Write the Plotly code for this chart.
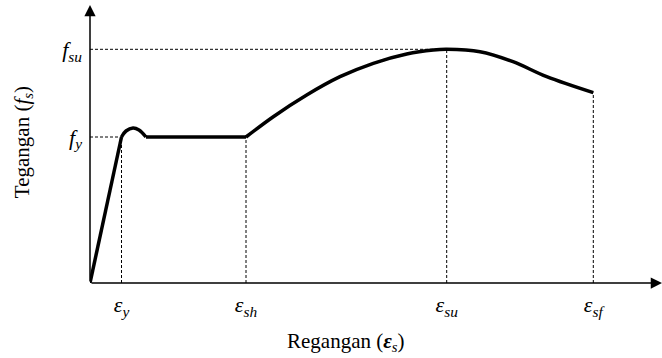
import plotly.graph_objects as go

# ---- data (strain / stress in chart units) ----
elastic_x = [0, 31.5]
elastic_y = [0, 146]
bump_x = [31.5, 36, 43, 49, 56]
bump_y = [146, 152, 155, 153, 146]
plateau_x = [56, 156]
plateau_y = [146, 146]
harden_x = [156, 183.3, 216.7, 250, 283.3, 316.7, 343.3, 356.7, 390, 423, 456.7, 503.3]
harden_y = [146, 166.3, 188, 206.3, 219.7, 229, 233, 233.7, 231.3, 221.3, 206.3, 190.3]

strain_ticks = [31.5, 156, 356.7, 503.3]
strain_labels = ["<i>ε<sub>y</sub></i>", "<i>ε<sub>sh</sub></i>", "<i>ε<sub>su</sub></i>", "<i>ε<sub>sf</sub></i>"]
stress_ticks = [146, 233.7]
stress_labels = ["<i>f<sub>y</sub></i>", "<i>f<sub>su</sub></i>"]
stress_at_strain = [146, 146, 233.7, 190.3]

x_title = "Regangan (<b><i>ε</i></b><sub><i>s</i></sub>)"
y_title = "Tegangan (<i>f<sub>s</sub></i>)"

x_max = 572
y_max = 278

FONT = "Liberation Serif, Times New Roman, serif"

fig = go.Figure()
line = dict(color="black", width=3.5)
fig.add_trace(go.Scatter(x=elastic_x, y=elastic_y, mode="lines", line=line, hoverinfo="skip"))
fig.add_trace(go.Scatter(x=bump_x, y=bump_y, mode="lines", line=dict(line, shape="spline"), hoverinfo="skip"))
fig.add_trace(go.Scatter(x=plateau_x, y=plateau_y, mode="lines", line=line, hoverinfo="skip"))
fig.add_trace(go.Scatter(x=harden_x, y=harden_y, mode="lines", line=dict(line, shape="spline", smoothing=1.0), hoverinfo="skip"))

dash = dict(color="black", width=1, dash="3px,2px")
# vertical guides
for xv, yv in zip(strain_ticks, stress_at_strain):
    fig.add_shape(type="line", x0=xv, x1=xv, y0=0, y1=yv, xref="x", yref="y", line=dash, layer="below")
# horizontal guides
fig.add_shape(type="line", x0=0, x1=strain_ticks[0], y0=stress_ticks[0], y1=stress_ticks[0], line=dash, layer="below")
fig.add_shape(type="line", x0=0, x1=strain_ticks[2], y0=stress_ticks[1], y1=stress_ticks[1], line=dash, layer="below")

# axes with arrows
fig.add_annotation(x=x_max, y=0, ax=0, ay=0, xref="x", yref="y", axref="x", ayref="y",
                   showarrow=True, arrowhead=2, arrowsize=1.5, arrowwidth=1.5, arrowcolor="black", text="")
fig.add_annotation(x=0, y=y_max, ax=0, ay=0, xref="x", yref="y", axref="x", ayref="y",
                   showarrow=True, arrowhead=2, arrowsize=1.5, arrowwidth=1.5, arrowcolor="black", text="")

# axis titles
fig.add_annotation(x=0.4476, y=-0.208, xref="paper", yref="paper", text=x_title, showarrow=False,
                   xanchor="center", yanchor="middle", font=dict(size=21))
fig.add_annotation(x=-0.117, y=0.498, xref="paper", yref="paper", text=y_title, showarrow=False,
                   textangle=-90, xanchor="center", yanchor="middle", font=dict(size=21))

fig.update_layout(
    width=662, height=358,
    margin=dict(l=90, r=0, t=0, b=75),
    paper_bgcolor="white", plot_bgcolor="white",
    showlegend=False,
    font=dict(family=FONT, size=16, color="black"),
    xaxis=dict(range=[0, 572], showgrid=False, zeroline=False, showline=False,
               tickmode="array", tickvals=strain_ticks, ticktext=strain_labels,
               ticks="", tickfont=dict(size=22), ticklabelstandoff=6),
    yaxis=dict(range=[0, 283], showgrid=False, zeroline=False, showline=False,
               tickmode="array", tickvals=stress_ticks, ticktext=stress_labels,
               ticks="", tickfont=dict(size=22), ticklabelstandoff=7),
)

fig.write_html("out.html")
